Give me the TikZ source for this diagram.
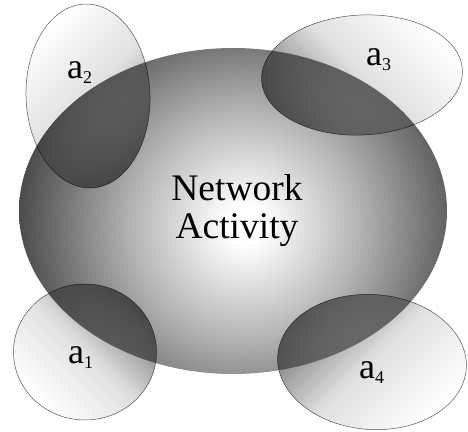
\documentclass[tikz,border=0pt]{standalone}
\usepackage{fontspec}
\setmainfont{Liberation Serif}
\usetikzlibrary{shapes.geometric}

\pgfdeclareradialshading{netshade}{\pgfpoint{0bp}{0bp}}{color(0bp)=(white); color(2bp)=(white); color(12bp)=(black!30); color(23.5bp)=(black!70); color(50bp)=(black!70)}
\newcommand{\actsub}[1]{\raisebox{-5pt}{\fontsize{18}{18}\selectfont #1}}

\begin{document}
\begin{tikzpicture}[x=1pt, y=-1pt,
  netnode/.style={ellipse, minimum width=428pt, minimum height=326pt, inner sep=0pt,
    path picture={\shade[shading=netshade]
      ([xshift=12pt,yshift=-14pt]path picture bounding box.center) circle (240pt);}},
  actnode/.style={ellipse, inner sep=0pt, draw=black!65, line width=0.5pt,
    blend mode=multiply},
  bigtext/.style={font=\fontsize{37.5}{40}\selectfont, inner sep=0pt, anchor=base},
  actlabel/.style={font=\fontsize{36}{40}\selectfont, inner sep=0pt, anchor=base west}
]
  \useasboundingbox (0,0) rectangle (468,431);

  \node[netnode] (net) at (233,211) {};

  % the four activities
  \node[actnode, minimum width=124pt, minimum height=184pt, rotate=2,
    top color=white, bottom color=black!55, middle color=black!12,
    shading angle=45] (a2) at (88,96) {};
  \node[actnode, minimum width=201pt, minimum height=120pt, rotate=3,
    top color=white, bottom color=black!55, middle color=black!12,
    shading angle=-45] (a3) at (362,75) {};
  \node[actnode, minimum width=143pt, minimum height=136pt,
    top color=black!55, bottom color=white, middle color=black!12,
    shading angle=-45] (a1) at (85,352) {};
  \node[actnode, minimum width=189pt, minimum height=135pt, rotate=-4,
    top color=black!55, bottom color=white, middle color=black!12,
    shading angle=45] (a4) at (372,362) {};

  \node[bigtext] (nettxt) at (237,200) {Network};
  \node[bigtext] (acttxt) at (237,238) {Activity};

  \node[actlabel] (l2) at (67,78) {a\actsub{2}};
  \node[actlabel] (l3) at (366,65) {a\actsub{3}};
  \node[actlabel] (l1) at (68,363) {a\actsub{1}};
  \node[actlabel] (l4) at (359,378) {a\actsub{4}};
\end{tikzpicture}
\end{document}
